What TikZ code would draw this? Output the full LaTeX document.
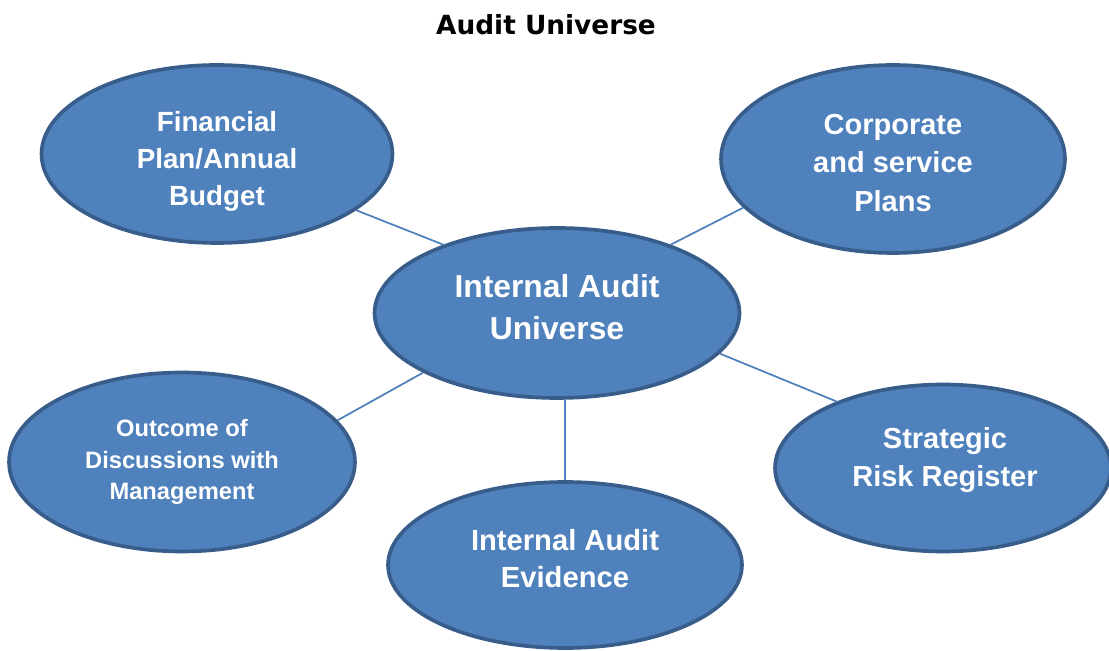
\documentclass[tikz,border=0pt]{standalone}
\usepackage{fontspec}
\setmainfont{Liberation Sans}
\newfontfamily\headfont{DejaVu Sans}
\usetikzlibrary{shapes.geometric}
\definecolor{bubblefill}{HTML}{4F81BD}
\definecolor{bubbleedge}{HTML}{385D8A}

\begin{document}
\begin{tikzpicture}[x=0.02cm, y=-0.02cm]
		\tikzstyle{bubble}=[ellipse, draw=bubbleedge, line width=2.1pt, fill=bubblefill, inner sep=0pt]
		\tikzstyle{caption}=[text=white, align=center, inner sep=0pt]
		\tikzstyle{link}=[draw=bubblefill, line width=1pt]
		\useasboundingbox (0,0) rectangle (1109,651);
		\node[font=\headfont\bfseries\fontsize{15}{18}\selectfont] (title) at (546,25) {Audit Universe};
		% the six ellipses
		\node[bubble, minimum width=7.3cm, minimum height=3.4cm] (ctr) at (557,313) {};
		\node[bubble, minimum width=7.02cm, minimum height=3.56cm] (fin) at (217,154) {};
		\node[bubble, minimum width=6.88cm, minimum height=3.76cm] (corp) at (893,159) {};
		\node[bubble, minimum width=6.92cm, minimum height=3.58cm] (outc) at (182,462) {};
		\node[bubble, minimum width=6.72cm, minimum height=3.34cm] (risk) at (943,468) {};
		\node[bubble, minimum width=7.08cm, minimum height=3.32cm] (evid) at (565,565) {};
		% their texts
		\node[caption, font=\bfseries\fontsize{18.1}{24}\selectfont] (ctrText) at (557,307) {Internal Audit\\Universe};
		\node[caption, font=\bfseries\fontsize{15.8}{21}\selectfont] (finText) at (217,161) {Financial\\Plan/Annual\\Budget};
		\node[caption, font=\bfseries\fontsize{16.5}{22}\selectfont] (corpText) at (893,163) {Corporate\\and service\\Plans};
		\node[caption, font=\bfseries\fontsize{13.5}{18}\selectfont] (outcText) at (182,462) {Outcome of\\Discussions with\\Management};
		\node[caption, font=\bfseries\fontsize{16.5}{22}\selectfont] (riskText) at (945,460) {Strategic\\Risk Register};
		\node[caption, font=\bfseries\fontsize{16.6}{21}\selectfont] (evidText) at (565,559) {Internal Audit\\Evidence};
		% spokes
		\draw[link] (ctr.149.8) -- (fin.-22.5);
		\draw[link] (ctr.31) -- (corp.198);
		\draw[link] (ctr.204.9) -- (outc.15.4);
		\draw[link] (ctr.-14.7) -- (risk.148.6);
		\draw[link] (evid.north) -- (evid.north |- ctr.south);
\end{tikzpicture}
\end{document}
